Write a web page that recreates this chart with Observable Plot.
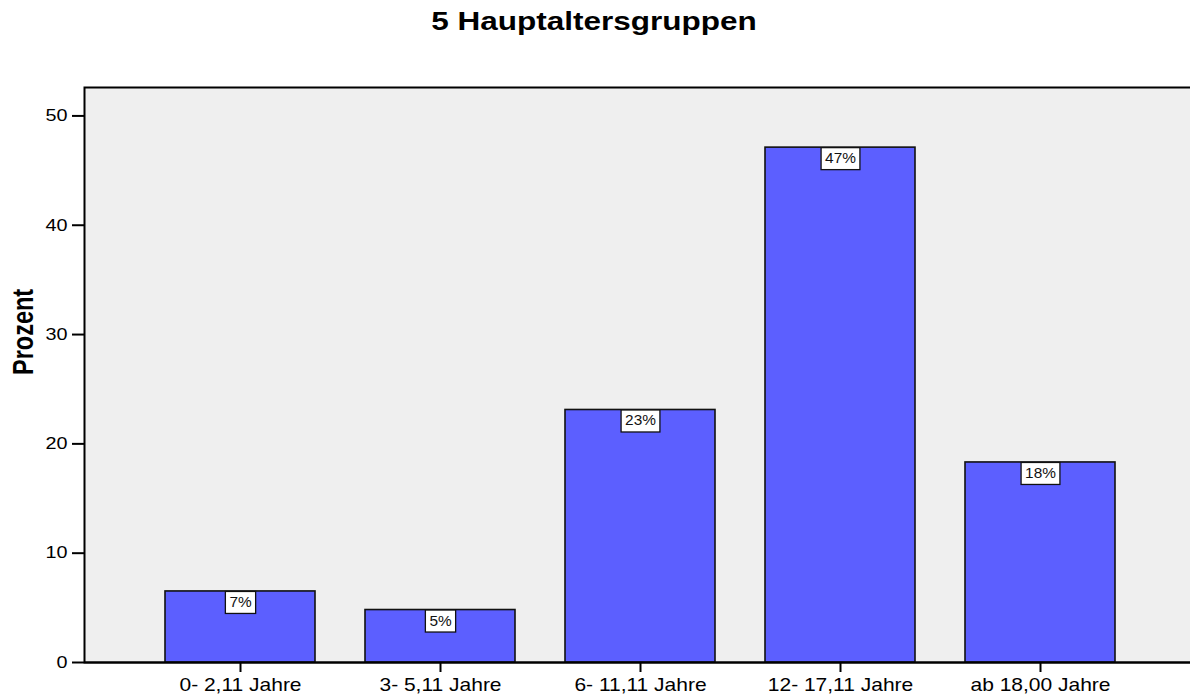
<!DOCTYPE html>
<html><head><meta charset="utf-8">
<script src="https://cdn.jsdelivr.net/npm/d3@7"></script>
<script src="https://cdn.jsdelivr.net/npm/@observablehq/plot@0.6"></script>
<style>
html,body{margin:0;padding:0;background:#fff;overflow:hidden;width:1190px;height:696px}
#title{height:50px;position:relative;font-family:"Liberation Sans",Arial,sans-serif;font-weight:bold;font-size:25px;color:#000}
#title span{position:absolute;left:594px;top:7px;line-height:normal;transform:translateX(-50%) scaleX(1.26);white-space:nowrap}
#chart{width:1190px;height:646px;overflow:hidden}
#chart svg{display:block;font-family:"Liberation Sans",Arial,sans-serif;max-width:none !important;width:1190px !important;height:646px !important;overflow:hidden !important}
</style></head><body>
<div id="title"><span>5 Hauptaltersgruppen</span></div>
<div id="chart"></div>
<script>
const categories = ["0- 2,11 Jahre", "3- 5,11 Jahre", "6- 11,11 Jahre", "12- 17,11 Jahre", "ab 18,00 Jahre"];
const percents = [6.5, 4.8, 23.1, 47.1, 18.3];
const labels = ["7%", "5%", "23%", "47%", "18%"];
const yTicks = [0, 10, 20, 30, 40, 50];
const yMax = 52.6;
const yLabel = "Prozent";

const data = categories.map((c, i) => ({category: c, percent: percents[i], label: labels[i]}));

const chart = Plot.plot({
  width: 1190,
  height: 646,
  marginLeft: 84,
  marginRight: 0,
  marginTop: 37,
  marginBottom: 34,
  style: {background: "#fff", color: "#000", overflow: "hidden"},
  x: {domain: categories, range: [140, 1140], paddingInner: 0.25, paddingOuter: 0.125, label: null},
  y: {domain: [0, yMax], label: null},
  marks: [
    Plot.frame({fill: "#efefef", stroke: "#000", strokeWidth: 2, insetRight: -40}),
    Plot.barY(data, {x: "category", y: "percent", fill: "#5c5fff", stroke: "#111", strokeWidth: 1.6}),
    Plot.ruleY([0], {stroke: "#000", strokeWidth: 2}),
    Plot.axisY(yTicks, {tickSize: 12, tickPadding: 5, fontSize: 16.5, strokeWidth: 2, label: null, className: "ytick"}),
    Plot.axisX({tickSize: 10, tickPadding: 6, fontSize: 17.5, strokeWidth: 2, label: null, className: "xtick"}),
    Plot.text(data, {x: "category", y: "percent", text: "label", dy: 11, lineAnchor: "middle", fontSize: 14, fill: "#111", className: "pct"}),
    Plot.text([yLabel], {frameAnchor: "left", rotate: -90, dx: -60.5, fontSize: 23.5, fontWeight: "bold", fill: "#000", className: "ylab"})
  ]
});
document.getElementById("chart").append(chart);

function stretch(sel, sx, sy) {
  chart.querySelectorAll(sel + " text").forEach(t => {
    const tr = t.getAttribute("transform") || "";
    t.setAttribute("transform", tr + ` scale(${sx},${sy})`);
  });
}
// label boxes
chart.querySelectorAll(".pct text").forEach(t => {
  const bb = t.getBBox();
  const s = 1.1;
  const w = bb.width * s + 8;
  const r = document.createElementNS("http://www.w3.org/2000/svg", "rect");
  r.setAttribute("transform", t.getAttribute("transform") || "");
  r.setAttribute("x", bb.x + bb.width / 2 - w / 2);
  r.setAttribute("y", -11);
  r.setAttribute("width", w);
  r.setAttribute("height", 22);
  r.setAttribute("fill", "#fff");
  r.setAttribute("stroke", "#111");
  r.setAttribute("stroke-width", 1.3);
  t.parentNode.insertBefore(r, t);
});
stretch(".pct", 1.1, 1);
stretch(".ytick", 1.2, 1);
stretch(".xtick", 1.2, 1);
stretch(".ylab", 1, 1.22);
</script>
</body></html>
